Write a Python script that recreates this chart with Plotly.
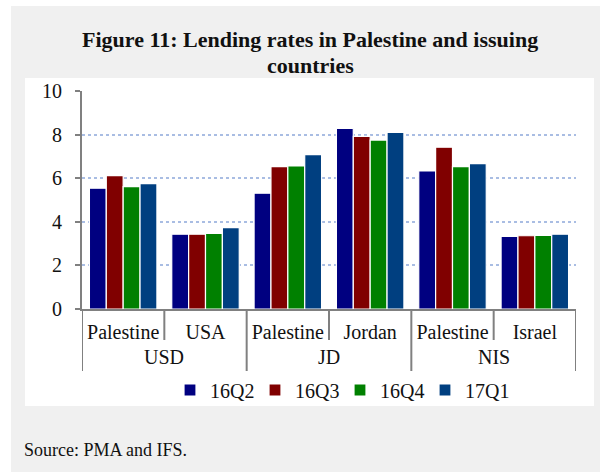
import plotly.graph_objects as go

# Currency groups and countries on the two-level category axis
currency = ["USD", "USD", "JD", "JD", "NIS", "NIS"]
country = ["Palestine", "USA", "Palestine", "Jordan", "Palestine", "Israel"]

# Lending rates (%) per quarter
rates_16Q2 = [5.54, 3.43, 5.31, 8.29, 6.33, 3.33]
rates_16Q3 = [6.12, 3.43, 6.53, 7.92, 7.42, 3.36]
rates_16Q4 = [5.61, 3.47, 6.56, 7.75, 6.53, 3.38]
rates_17Q1 = [5.75, 3.73, 7.08, 8.10, 6.67, 3.43]

series = [
    ("16Q2", rates_16Q2, "#000080"),
    ("16Q3", rates_16Q3, "#800000"),
    ("16Q4", rates_16Q4, "#008000"),
    ("17Q1", rates_17Q1, "#003f80"),
]

y_ticks = [0, 2, 4, 6, 8, 10]

FONT = "Liberation Serif"
INK = "#111111"
AXIS = "#808080"
W, H = 600, 472
L, R, T, B = 82, 24, 91, 163
PW, PH = W - L - R, H - T - B


def px(x):
    return (x - L) / PW


def py(y):
    return (H - B - y) / PH


# one slot per country column
pos = list(range(len(country)))

fig = go.Figure()
for name, vals, color in series:
    fig.add_trace(go.Bar(
        x=pos, y=vals, name=name,
        marker=dict(color=color, line=dict(color="white", width=1.2)),
    ))

# currency blocks: first/last slot of each run of equal labels
blocks = []
for i, c in enumerate(currency):
    if blocks and blocks[-1][0] == c:
        blocks[-1][2] = i
    else:
        blocks.append([c, i, i])

shapes = [
    dict(type="rect", xref="paper", yref="paper",
         x0=px(11), x1=px(600), y0=py(472), y1=py(6),
         fillcolor="#f0f0f0", line=dict(width=0), layer="below"),
    dict(type="rect", xref="paper", yref="paper",
         x0=px(25), x1=px(594), y0=py(406), y1=py(78),
         fillcolor="white", line=dict(width=0), layer="below"),
]
annotations = []
edges = set()
for c, a, b in blocks:
    edges.add(a - 0.5)
    edges.add(b + 0.5)
    annotations.append(dict(
        text=c, xref="x", yref="paper", x=(a + b) / 2, y=py(357),
        xanchor="center", yanchor="middle", showarrow=False,
        font=dict(family=FONT, size=20, color=INK)))
    # short separators between countries inside a block
    for k in range(a, b):
        shapes.append(dict(type="line", xref="x", yref="paper",
                           x0=k + 0.5, x1=k + 0.5, y0=0, y1=py(340),
                           line=dict(color=AXIS, width=2)))
for e in sorted(edges):
    shapes.append(dict(type="line", xref="x", yref="paper",
                       x0=e, x1=e, y0=0, y1=py(371),
                       line=dict(color=AXIS, width=2)))

annotations += [
    dict(text="<b>Figure 11: Lending rates in Palestine and issuing</b>",
         xref="paper", yref="paper", x=px(310), y=py(40),
         xanchor="center", yanchor="middle", showarrow=False,
         font=dict(family=FONT, size=22, color=INK)),
    dict(text="<b>countries</b>",
         xref="paper", yref="paper", x=px(310), y=py(65),
         xanchor="center", yanchor="middle", showarrow=False,
         font=dict(family=FONT, size=22, color=INK)),
    dict(text="Source: PMA and IFS.",
         xref="paper", yref="paper", x=px(22), y=py(450),
         xanchor="left", yanchor="middle", showarrow=False,
         font=dict(family=FONT, size=18, color=INK)),
]

fig.update_layout(
    width=W, height=H,
    margin=dict(l=L, r=R, t=T, b=B, pad=0),
    paper_bgcolor="white",
    plot_bgcolor="rgba(0,0,0,0)",
    barmode="group",
    bargap=0.18,
    bargroupgap=0.0,
    font=dict(family=FONT, size=20, color=INK),
    showlegend=True,
    legend=dict(
        orientation="h", x=px(340), y=py(390), xanchor="center", yanchor="middle",
        font=dict(family=FONT, size=20, color=INK),
        bgcolor="rgba(0,0,0,0)", itemwidth=30,
        entrywidth=40, entrywidthmode="pixels",
    ),
    xaxis=dict(
        range=[-0.5, len(country) - 0.5],
        tickvals=pos, ticktext=country,
        showline=True, linecolor=AXIS, linewidth=2,
        ticks="", ticklabelstandoff=4,
        tickfont=dict(family=FONT, size=20, color=INK),
        showgrid=False, zeroline=False,
    ),
    yaxis=dict(
        range=[0, 10], tickvals=y_ticks,
        showline=True, linecolor=AXIS, linewidth=2,
        ticks="outside", ticklen=5, tickcolor=AXIS, tickwidth=2,
        ticklabelstandoff=9,
        showgrid=True, gridcolor="#a9bde3", gridwidth=1.5, griddash="dot",
        zeroline=False,
        tickfont=dict(family=FONT, size=20, color=INK),
    ),
    shapes=shapes,
    annotations=annotations,
)

fig.write_html("out.html")
